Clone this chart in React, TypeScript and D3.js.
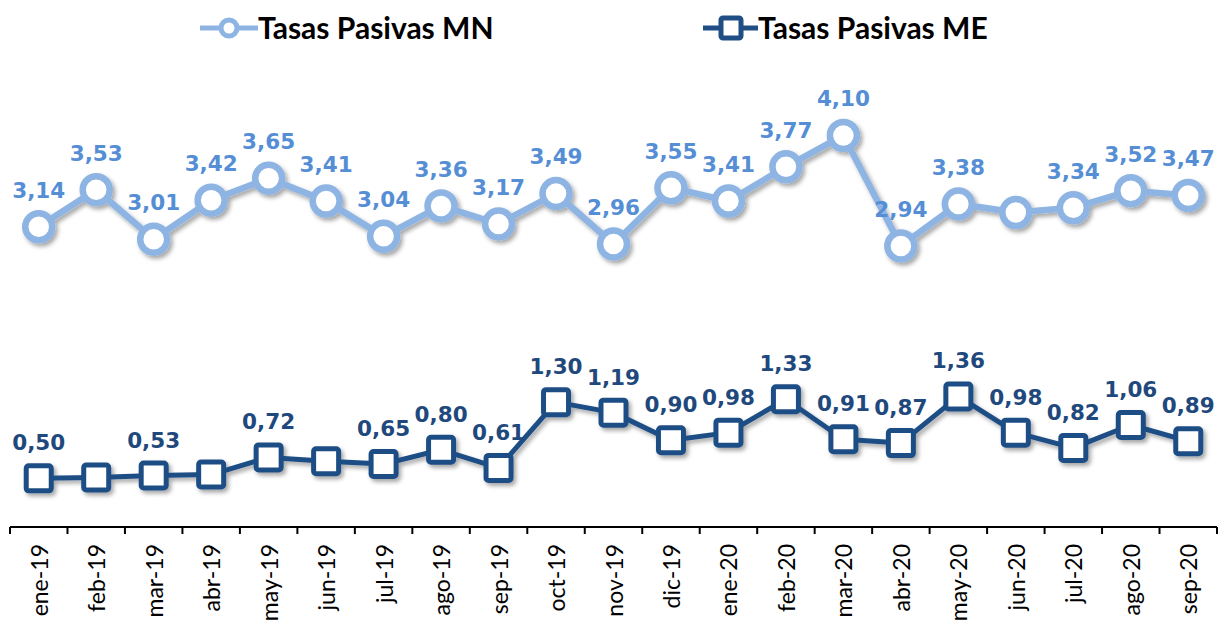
import React from 'react';
import * as d3 from 'd3';

// meses (eje x)
const months = [
    'ene-19', 'feb-19', 'mar-19', 'abr-19', 'may-19', 'jun-19', 'jul-19', 'ago-19', 'sep-19',
    'oct-19', 'nov-19', 'dic-19', 'ene-20', 'feb-20', 'mar-20', 'abr-20', 'may-20', 'jun-20',
    'jul-20', 'ago-20', 'sep-20'
];

// Tasas Pasivas MN
const tasasMN = [3.14, 3.53, 3.01, 3.42, 3.65, 3.41, 3.04, 3.36, 3.17, 3.49, 2.96, 3.55, 3.41, 3.77, 4.10, 2.94, 3.38, 3.29, 3.34, 3.52, 3.47];
// which points carry a label in the original (jun-20 has none)
const showMN = [true, true, true, true, true, true, true, true, true, true, true, true, true, true, true, true, true, false, true, true, true];

// Tasas Pasivas ME
const tasasME = [0.50, 0.51, 0.53, 0.54, 0.72, 0.68, 0.65, 0.80, 0.61, 1.30, 1.19, 0.90, 0.98, 1.33, 0.91, 0.87, 1.36, 0.98, 0.82, 1.06, 0.89];
const showME = [true, false, true, false, true, false, true, true, true, true, true, true, true, true, true, true, true, true, true, true, true];

const W = 1230, H = 624;
const mnStroke = '#8db4e2', mnText = '#558ed5';
const meStroke = '#1f4e85', meText = '#1f497d';
const fmt = (v: number) => d3.format('.2f')(v).replace('.', ',');

const App = () => {
    const x = d3.scaleBand().domain(months).range([10, 1217]);
    const cx = (m: string) => (x(m) as number) + x.bandwidth() / 2;
    const y = d3.scaleLinear().domain([0, 5.5]).range([526, 2]);
    const axisY = 527;

    const line = d3.line<number>()
        .x((d, i) => cx(months[i]))
        .y(d => y(d));

    const edges = months.map(m => x(m) as number).concat([1217]);
    const sq = 25;

    return (
        <svg width={W} height={H} style={{ position: 'absolute', left: 0, top: 0, background: '#fff' }}>
            <defs>
                <filter id="sh" x="-20%" y="-20%" width="140%" height="160%">
                    <feDropShadow dx="2.5" dy="3" stdDeviation="2" floodColor="#000" floodOpacity="0.35" />
                </filter>
            </defs>

            {/* legend */}
            <g fontFamily="Lato, sans-serif" fontWeight="bold" fontSize={30} fill="#000">
                <line x1={200} x2={258} y1={28} y2={28} stroke={mnStroke} strokeWidth={5} />
                <circle cx={229} cy={28} r={8} fill="#fff" stroke={mnStroke} strokeWidth={5} />
                <text x={258} y={39}>Tasas Pasivas MN</text>
                <line x1={703} x2={758} y1={28} y2={28} stroke={meStroke} strokeWidth={5} />
                <rect x={721} y={18} width={20} height={20} rx={2} fill="#fff" stroke={meStroke} strokeWidth={5} />
                <text x={758} y={39}>Tasas Pasivas ME</text>
            </g>

            {/* MN series */}
            <g filter="url(#sh)">
                <path d={line(tasasMN) as string} fill="none" stroke={mnStroke} strokeWidth={6.5} strokeLinejoin="round" />
                {tasasMN.map((v, i) => (
                    <circle key={i} cx={cx(months[i])} cy={y(v)} r={13.5} fill="#fff" stroke={mnStroke} strokeWidth={6.5} />
                ))}
            </g>
            <g fontFamily="'DejaVu Sans', Verdana, sans-serif" fontWeight="bold" fontSize={21.5} fill={mnText} textAnchor="middle">
                {tasasMN.map((v, i) => showMN[i] ? (
                    <text key={i} x={cx(months[i])} y={y(v) - 29}>{fmt(v)}</text>
                ) : null)}
            </g>

            {/* ME series */}
            <g filter="url(#sh)">
                <path d={line(tasasME) as string} fill="none" stroke={meStroke} strokeWidth={5} strokeLinejoin="round" />
                {tasasME.map((v, i) => (
                    <rect key={i} x={cx(months[i]) - sq / 2} y={y(v) - sq / 2} width={sq} height={sq} rx={2.5}
                        fill="#fff" stroke={meStroke} strokeWidth={5} />
                ))}
            </g>
            <g fontFamily="'DejaVu Sans', Verdana, sans-serif" fontWeight="bold" fontSize={21.5} fill={meText} textAnchor="middle">
                {tasasME.map((v, i) => showME[i] ? (
                    <text key={i} x={cx(months[i])} y={y(v) - 28}>{fmt(v)}</text>
                ) : null)}
            </g>

            {/* x axis */}
            <g stroke="#000" strokeWidth={2}>
                <line x1={10} x2={1217} y1={axisY} y2={axisY} />
                {edges.map((e, i) => (
                    <line key={i} x1={e} x2={e} y1={axisY} y2={axisY + 7} />
                ))}
            </g>
            <g fontFamily="Lato, sans-serif" fontSize={23} fill="#000" textAnchor="end">
                {months.map(m => (
                    <text key={m} transform={`translate(${cx(m) + 9},544) rotate(-90)`}>{m}</text>
                ))}
            </g>
        </svg>
    );
};

export default App;
